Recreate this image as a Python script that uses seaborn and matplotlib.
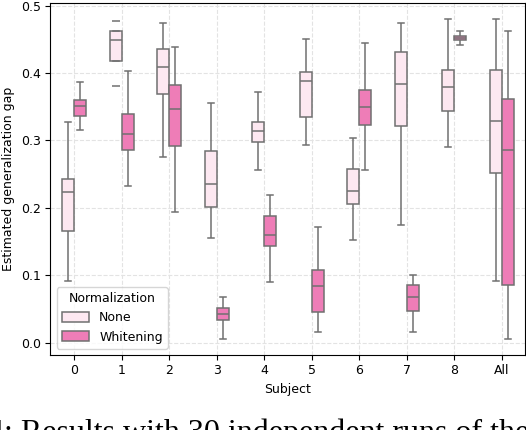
import numpy as np
import pandas as pd
import seaborn as sns
import matplotlib.pyplot as plt

# five-number summaries (lo, q1, median, q3, hi)
subjects = ['0', '1', '2', '3', '4', '5', '6', '7', '8', 'All']
norms = ['None', 'Whitening']

none_lo = [0.092, 0.381, 0.276, 0.156, 0.256, 0.293, 0.153, 0.175, 0.290, 0.092]
none_q1 = [0.166, 0.418, 0.369, 0.201, 0.298, 0.335, 0.206, 0.321, 0.344, 0.252]
none_med = [0.224, 0.449, 0.409, 0.236, 0.314, 0.388, 0.225, 0.384, 0.379, 0.329]
none_q3 = [0.243, 0.462, 0.436, 0.285, 0.327, 0.401, 0.258, 0.431, 0.404, 0.404]
none_hi = [0.327, 0.477, 0.475, 0.356, 0.372, 0.451, 0.304, 0.474, 0.481, 0.481]

whit_lo = [0.316, 0.233, 0.194, 0.006, 0.090, 0.016, 0.256, 0.016, 0.442, 0.006]
whit_q1 = [0.336, 0.286, 0.292, 0.033, 0.144, 0.046, 0.323, 0.047, 0.449, 0.086]
whit_med = [0.351, 0.310, 0.346, 0.043, 0.160, 0.084, 0.350, 0.067, 0.452, 0.286]
whit_q3 = [0.360, 0.340, 0.383, 0.051, 0.188, 0.108, 0.375, 0.086, 0.455, 0.361]
whit_hi = [0.387, 0.403, 0.439, 0.068, 0.219, 0.171, 0.445, 0.101, 0.463, 0.463]

summary = {
    'None': [none_lo, none_q1, none_med, none_q3, none_hi],
    'Whitening': [whit_lo, whit_q1, whit_med, whit_q3, whit_hi],
}

rows = []
for norm in norms:
    for i, s in enumerate(subjects):
        for stat in summary[norm]:
            rows.append({'Subject': s, 'Normalization': norm, 'gap': stat[i]})
df = pd.DataFrame(rows)

palette = {'None': '#fde8f1', 'Whitening': '#ee7db7'}
line_c = '#707070'

plt.rcParams['font.family'] = ['DejaVu Sans']
plt.rcParams['font.size'] = 9

fig = plt.figure(figsize=(5.26, 4.30), dpi=100)
ax = fig.add_axes([0.096, 0.175, 0.903, 0.818])

# subject 1 / None shows only floating caps in the reference
odd = (df['Subject'] == '1') & (df['Normalization'] == 'None')

common = dict(x='Subject', y='gap', hue='Normalization', order=subjects,
              hue_order=norms, palette=palette, width=0.5, gap=0,
              dodge=True, saturation=1, linecolor=line_c, linewidth=1.1,
              ax=ax)

sns.boxplot(data=df[~odd], whis=(0, 100), **common)
sns.boxplot(data=df[odd], whis=0, legend=False,
            flierprops={'marker': '_', 'markersize': 6,
                        'markeredgecolor': line_c, 'markeredgewidth': 1.1},
            **common)

ax.set_axisbelow(True)
ax.grid(True, linestyle='--', color='#e3e3e3', linewidth=0.8)
ax.set_yticks([0.0, 0.1, 0.2, 0.3, 0.4, 0.5])
ax.set_ylim(-0.018, 0.504)
ax.set_xlabel('Subject')
ax.set_ylabel('Estimated generalization gap')
for sp in ax.spines.values():
    sp.set_color('black')

sns.move_legend(ax, 'lower left', title='Normalization', fontsize=9,
                title_fontsize=9, frameon=True, handlelength=2.2,
                handleheight=0.9)

fig.text(-0.022, -0.026, '4: Results with 30 independent runs of the',
         fontsize=23, family='Liberation Serif', ha='left', va='baseline')

plt.savefig('out.png', dpi=100)
